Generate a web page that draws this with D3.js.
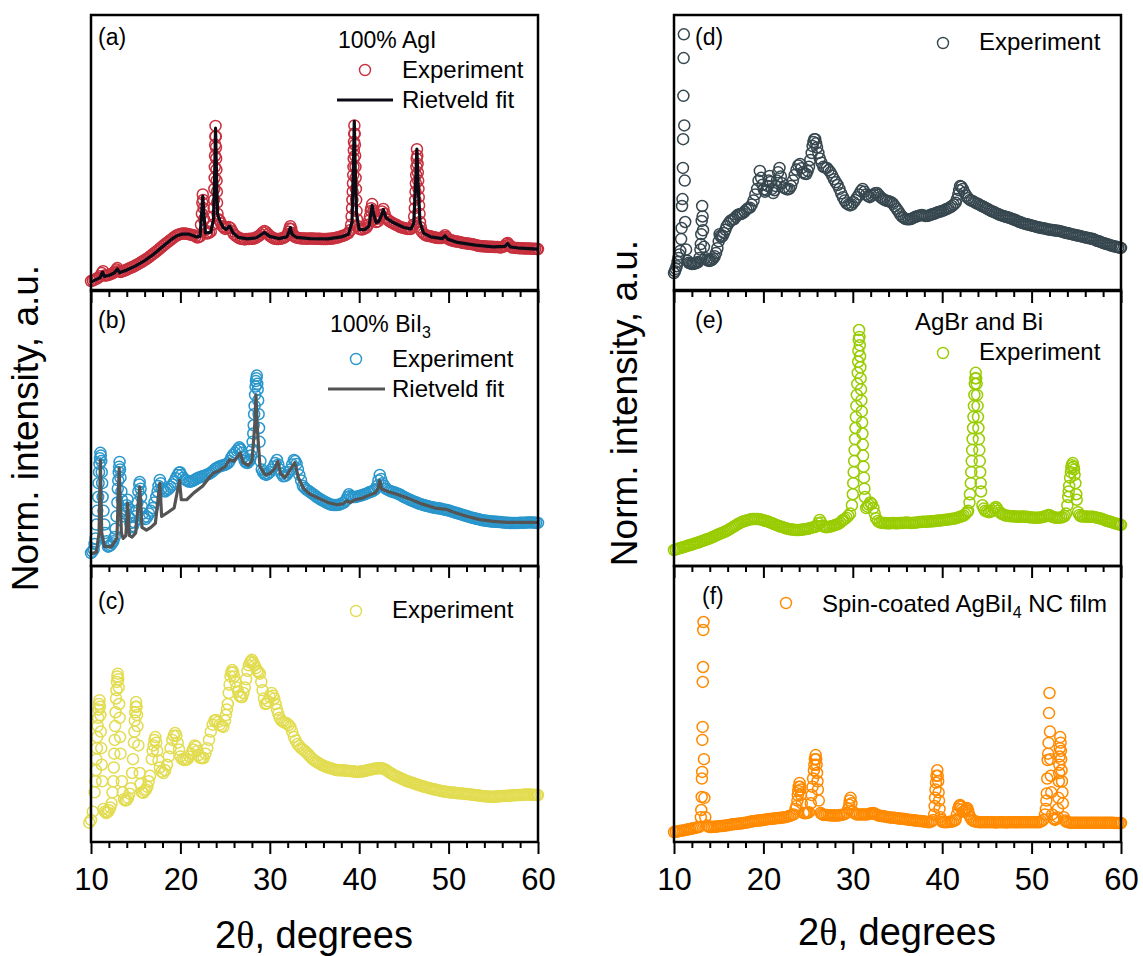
<!DOCTYPE html>
<html>
<head>
<meta charset="utf-8">
<script src="https://d3js.org/d3.v7.min.js"></script>
<style>
  body { margin: 0; background: #fff; }
  text { font-family: "Liberation Sans", Arial, sans-serif; fill: #000; }
</style>
</head>
<body>
<script>
// 2theta ticks
var majorTicks = [10, 20, 30, 40, 50, 60];
var minorTicks = [12, 14, 16, 18, 22, 24, 26, 28, 32, 34, 36, 38, 42, 44, 46, 48, 52, 54, 56, 58];

// (a) 100% AgI  [2theta, norm. intensity]
var expA = [[10.0,3.6],[10.2,3.8],[10.4,4.1],[10.6,4.4],[10.8,4.8],[11.0,5.3],[11.2,6.5],[11.35,7.2],[11.5,5.6],[11.7,5.6],[11.9,5.8],[12.1,6.0],[12.3,6.2],[12.5,6.6],[12.7,7.1],[12.85,7.8],[12.95,8.3],[13.1,7.2],[13.3,6.9],[13.5,7.1],[13.7,7.3],[13.9,7.6],[14.1,7.9],[14.3,8.2],[14.5,8.5],[14.7,8.8],[14.9,9.1],[15.1,9.5],[15.3,9.8],[15.5,10.2],[15.7,10.6],[15.9,11.0],[16.1,11.4],[16.3,11.8],[16.5,12.3],[16.7,12.8],[16.9,13.3],[17.1,13.8],[17.3,14.3],[17.5,14.8],[17.7,15.4],[17.9,15.9],[18.1,16.5],[18.3,17.0],[18.5,17.5],[18.7,18.0],[18.9,18.5],[19.1,19.0],[19.3,19.5],[19.5,20.0],[19.7,20.3],[19.9,20.6],[20.1,20.7],[20.3,20.8],[20.5,20.8],[20.7,20.7],[20.9,20.6],[21.1,20.5],[21.3,20.3],[21.5,20.2],[21.7,19.8],[21.9,19.4],[22.1,19.6],[22.2,19.8],[22.3,24],[22.4,28],[22.45,32],[22.5,35],[22.55,33],[22.6,30],[22.65,26],[22.75,22],[22.9,21],[23.0,20.8],[23.2,21.1],[23.4,21.5],[23.6,24],[23.68,27],[23.72,30],[23.76,33],[23.8,37],[23.83,41],[23.85,45],[23.87,49],[23.89,53],[23.91,56],[23.93,59.8],[23.96,56],[23.98,52],[24.0,48],[24.03,44],[24.05,40],[24.08,36],[24.1,32],[24.15,28],[24.25,26],[24.4,25.5],[24.55,24.5],[24.7,23.5],[24.85,23],[25.0,22.5],[25.2,22.8],[25.4,23.2],[25.6,22.8],[25.8,21.6],[26.0,20.5],[26.2,20.0],[26.4,19.5],[26.6,19.1],[26.8,18.9],[27.0,18.8],[27.2,18.7],[27.4,18.8],[27.6,18.8],[27.8,18.9],[28.0,18.9],[28.2,19.0],[28.4,19.2],[28.6,19.6],[28.8,20.0],[29.0,20.5],[29.2,21.2],[29.4,21.7],[29.6,21.3],[29.8,20.6],[30.0,20.0],[30.2,19.5],[30.4,19.1],[30.6,18.9],[30.8,18.8],[31.0,18.8],[31.2,18.9],[31.4,19.1],[31.6,19.4],[31.8,19.8],[32.0,20.6],[32.1,21.5],[32.2,22.6],[32.3,23.5],[32.4,22.5],[32.5,21.0],[32.65,20.2],[32.8,19.6],[33.0,19.4],[33.2,19.2],[33.4,19.1],[33.6,19.0],[33.8,19.0],[34.0,19.0],[34.2,18.9],[34.4,19.0],[34.6,19.0],[34.8,19.0],[35.0,18.9],[35.2,18.9],[35.4,18.9],[35.6,18.9],[35.8,18.8],[36.0,18.8],[36.2,18.8],[36.4,18.8],[36.6,18.9],[36.8,18.9],[37.0,19.0],[37.2,19.1],[37.4,19.3],[37.6,19.4],[37.8,19.6],[38.0,19.8],[38.2,20.0],[38.4,20.3],[38.6,20.6],[38.8,21.0],[39.0,22],[39.1,24],[39.15,27],[39.2,30],[39.24,33],[39.27,36],[39.3,39],[39.33,42],[39.36,45],[39.38,48],[39.4,51],[39.42,54],[39.44,57],[39.46,60],[39.5,57],[39.52,53],[39.55,49],[39.58,45],[39.6,41],[39.63,37],[39.66,33],[39.7,29],[39.75,26],[39.85,23.5],[40.0,22.5],[40.2,22.3],[40.4,22.3],[40.6,22.6],[40.8,23.0],[41.0,24.0],[41.1,25.5],[41.2,27],[41.3,29],[41.35,30],[41.45,31.5],[41.6,29],[41.7,27],[41.8,26],[41.9,25],[42.1,25.2],[42.25,26.3],[42.4,27.5],[42.55,28.8],[42.7,29.7],[42.85,28],[43.0,26.5],[43.2,25.8],[43.4,25.2],[43.6,24.9],[43.8,24.5],[44.0,24.2],[44.2,23.9],[44.4,23.5],[44.6,23.2],[44.8,23.0],[45.0,22.8],[45.2,22.6],[45.4,22.5],[45.6,22.5],[45.8,22.5],[46.0,23.2],[46.05,24],[46.15,27],[46.22,30],[46.27,33],[46.3,36],[46.34,39],[46.37,42],[46.4,45],[46.43,48],[46.46,51.4],[46.5,49],[46.53,46],[46.56,43],[46.6,40],[46.63,37],[46.66,34],[46.7,31],[46.75,28],[46.8,25],[46.9,23],[47.0,21.5],[47.2,20.8],[47.4,20.3],[47.6,20.0],[47.8,19.9],[48.0,19.8],[48.2,19.6],[48.4,19.5],[48.6,19.3],[48.8,19.2],[49.0,19.2],[49.2,19.2],[49.4,19.5],[49.6,20.2],[49.75,19.6],[49.9,19.0],[50.1,18.6],[50.3,18.4],[50.5,18.2],[50.7,18.0],[50.9,17.9],[51.1,17.8],[51.3,17.7],[51.5,17.5],[51.7,17.4],[51.9,17.3],[52.1,17.2],[52.3,17.1],[52.5,17.0],[52.7,16.9],[52.9,16.8],[53.1,16.6],[53.3,16.4],[53.5,16.3],[53.7,16.2],[53.9,16.2],[54.1,16.1],[54.3,16.1],[54.5,16.0],[54.7,16.0],[54.9,16.0],[55.1,15.9],[55.3,15.9],[55.5,15.9],[55.7,15.8],[55.9,15.8],[56.1,16.0],[56.3,16.4],[56.45,17.0],[56.6,17.4],[56.75,16.8],[56.9,16.2],[57.1,15.8],[57.3,15.7],[57.5,15.6],[57.7,15.6],[57.9,15.5],[58.1,15.5],[58.3,15.5],[58.5,15.4],[58.7,15.4],[58.9,15.4],[59.1,15.4],[59.3,15.3],[59.5,15.3],[59.7,15.3],[59.9,15.2],[60.0,15.2]];
var fitA = [[10.0,3.2],[10.6,4.2],[11.0,4.8],[11.3,6.8],[11.5,5.3],[12.0,5.6],[12.6,6.5],[12.95,8.0],[13.2,6.6],[14.0,7.6],[15.0,9.1],[16.0,11.0],[17.0,13.3],[18.0,16.0],[19.0,18.7],[19.6,20.0],[20.2,20.6],[21.0,20.6],[21.8,19.6],[22.2,19.8],[22.35,27],[22.5,34.4],[22.65,27],[22.8,21],[23.4,21.3],[23.7,26],[23.85,45],[23.93,59],[24.02,45],[24.15,28],[24.4,25.5],[24.8,23],[25.1,22.3],[25.5,23.5],[25.9,21],[26.5,19.4],[27.5,18.9],[28.5,19.3],[29.4,21.2],[30.0,19.8],[31.0,19.0],[31.9,19.6],[32.1,21],[32.3,23],[32.5,20.5],[33.0,19.4],[34.5,19.0],[36.5,18.9],[38.0,19.6],[38.8,20.6],[39.2,25],[39.35,45],[39.45,61.5],[39.55,45],[39.7,28],[40.0,22.3],[40.6,22.2],[41.1,23.5],[41.3,28],[41.45,31],[41.6,28],[41.9,24.8],[42.2,25.2],[42.5,27.5],[42.7,29.5],[43.0,26.5],[43.8,24.8],[45.0,23],[45.8,22.5],[46.1,24.5],[46.3,38],[46.45,51.4],[46.6,38],[46.8,25],[47.2,21],[48.0,19.6],[49.3,19.0],[49.6,20.0],[49.9,18.8],[51.0,17.6],[53.0,16.6],[55.0,16.0],[56.3,16.2],[56.6,17.2],[56.9,16.0],[58.0,15.5],[60.0,15.2]];

// (b) 100% BiI3
var expB = [[10.0,4.7],[10.15,5.2],[10.3,6],[10.4,8],[10.5,10],[10.6,15],[10.7,20],[10.8,25],[10.85,30],[10.9,34],[10.95,37],[11.0,39],[11.05,41],[11.1,40],[11.15,38],[11.2,34],[11.25,30],[11.3,25],[11.4,20],[11.5,15],[11.6,12],[11.75,9],[11.9,7],[12.05,7.2],[12.2,7.6],[12.35,8.2],[12.5,9],[12.65,10.5],[12.75,13.5],[12.85,18],[12.95,23],[13.0,28],[13.05,31],[13.1,34],[13.15,36],[13.2,37.7],[13.25,35],[13.3,32],[13.4,27],[13.45,24],[13.55,20],[13.65,18],[13.8,19],[13.9,20.5],[14.0,22],[14.1,24],[14.2,21],[14.3,17.5],[14.4,15.5],[14.55,14],[14.7,14.5],[14.85,15.8],[15.0,18],[15.1,20],[15.2,23],[15.3,27],[15.4,29.5],[15.45,30.4],[15.55,28],[15.6,25],[15.7,21.5],[15.8,19],[15.95,17.5],[16.1,17],[16.3,17.8],[16.5,19],[16.7,20],[16.9,21],[17.1,23],[17.3,25],[17.45,27],[17.55,29],[17.7,31.2],[17.8,30],[17.9,28],[18.1,27.3],[18.3,27],[18.5,27.5],[18.7,28],[18.9,28.7],[19.1,29.5],[19.3,30.5],[19.5,31.8],[19.7,33],[19.85,33.8],[19.95,34],[20.1,33],[20.3,32],[20.5,31.3],[20.7,31],[20.9,30.6],[21.1,30.5],[21.3,30.8],[21.5,31],[21.7,31.4],[21.9,31.8],[22.1,32.1],[22.3,32.3],[22.5,32.5],[22.7,32.7],[22.9,33],[23.1,33.2],[23.3,33.6],[23.5,34],[23.7,34.6],[23.9,35.2],[24.1,35.6],[24.3,36],[24.5,36.2],[24.7,36.4],[24.9,36.6],[25.1,36.8],[25.3,37.2],[25.5,38],[25.7,39.3],[25.9,40.3],[26.1,41],[26.3,41.8],[26.5,42.6],[26.6,43],[26.75,42.2],[26.9,41],[27.05,39.5],[27.2,38],[27.35,37.5],[27.5,37.3],[27.65,37.8],[27.8,38.5],[27.9,40],[28.0,42],[28.08,45],[28.15,48],[28.2,51],[28.25,55],[28.3,58],[28.35,62],[28.4,65],[28.45,67],[28.5,68],[28.55,69],[28.6,66],[28.65,64],[28.7,60],[28.75,55],[28.8,50],[28.85,45],[28.95,38],[29.1,35],[29.25,34],[29.4,33.3],[29.6,33],[29.8,33.4],[30.0,34],[30.2,35],[30.4,36],[30.6,37.3],[30.8,38.4],[30.95,36.8],[31.1,35],[31.3,33.5],[31.5,32.5],[31.7,32.6],[31.9,33],[32.1,34],[32.3,35],[32.5,36.8],[32.7,38.4],[32.85,38],[33.0,37],[33.15,35],[33.3,33],[33.5,31],[33.7,29],[33.9,28.3],[34.1,27.7],[34.3,27.3],[34.5,26.8],[34.7,26.3],[34.9,25.9],[35.1,25.4],[35.3,24.9],[35.5,24.5],[35.7,24.1],[35.9,23.7],[36.1,23.4],[36.3,23],[36.5,22.7],[36.7,22.4],[36.9,22.2],[37.1,22.1],[37.3,22.1],[37.5,22.1],[37.7,22.2],[37.9,22.4],[38.1,22.7],[38.3,23],[38.5,23.8],[38.7,25],[38.85,26],[39.0,25.4],[39.2,25],[39.4,25],[39.6,25],[39.8,25.2],[40.0,25.4],[40.2,25.5],[40.4,25.7],[40.6,26],[40.8,26.2],[41.0,26.5],[41.2,26.8],[41.4,27],[41.6,27.3],[41.8,27.8],[42.0,29],[42.15,31],[42.3,33],[42.45,31.5],[42.6,30],[42.8,29],[43.0,28],[43.2,27.6],[43.4,27.3],[43.6,27],[43.8,26.8],[44.0,26.6],[44.2,26.4],[44.4,26.1],[44.6,25.8],[44.8,25.4],[45.0,25],[45.2,24.7],[45.4,24.4],[45.6,24.1],[45.8,23.8],[46.0,23.5],[46.2,23.3],[46.4,23],[46.6,22.7],[46.8,22.5],[47.0,22.3],[47.2,22.1],[47.4,21.9],[47.6,21.7],[47.8,21.6],[48.0,21.4],[48.2,21.3],[48.4,21.1],[48.6,21],[48.8,20.9],[49.0,20.8],[49.2,20.7],[49.4,20.5],[49.6,20.4],[49.8,20.3],[50.0,20.1],[50.2,19.9],[50.4,19.7],[50.6,19.5],[50.8,19.3],[51.0,19.1],[51.2,18.9],[51.4,18.7],[51.6,18.5],[51.8,18.3],[52.0,18.1],[52.2,17.9],[52.4,17.7],[52.6,17.5],[52.8,17.4],[53.0,17.2],[53.2,17.0],[53.4,16.9],[53.6,16.7],[53.8,16.6],[54.0,16.5],[54.2,16.4],[54.4,16.3],[54.6,16.2],[54.8,16.1],[55.0,16.1],[55.2,16.0],[55.4,16.0],[55.6,15.9],[55.8,15.9],[56.0,15.8],[56.2,15.8],[56.4,15.7],[56.6,15.7],[56.8,15.6],[57.0,15.6],[57.2,15.6],[57.4,15.6],[57.6,15.6],[57.8,15.6],[58.0,15.7],[58.2,15.7],[58.4,15.7],[58.6,15.7],[58.8,15.8],[59.0,15.8],[59.2,15.8],[59.4,15.8],[59.6,15.7],[59.8,15.7],[60.0,15.6]];
var fitB = [[10.0,4.5],[10.6,5],[10.9,12],[11.05,38.4],[11.2,12],[11.5,7],[12.3,7],[12.9,10],[13.15,35.5],[13.4,12],[13.6,10],[13.9,11],[14.1,22.8],[14.3,11],[14.6,10.5],[15.0,12],[15.45,28.7],[15.7,14],[16.2,13],[16.7,14],[17.2,15.5],[17.7,30],[17.9,18],[18.5,19.2],[19.3,21],[19.9,31],[20.1,24],[20.7,24],[21.5,26.5],[22.5,29],[23.2,32],[23.7,33.7],[24.3,34.5],[25.0,36],[25.5,38.5],[26.0,38],[26.5,40],[26.7,41],[27.0,37.5],[27.6,36.5],[28.0,38],[28.3,50],[28.45,62],[28.6,50],[28.9,36],[29.5,33],[30.0,33.5],[30.5,35],[30.9,38],[31.2,33.5],[31.7,32],[32.2,34.5],[32.8,37.5],[33.2,32],[33.8,28],[34.5,26],[35.5,24.5],[36.5,23],[37.5,22.2],[38.2,22.5],[38.6,23.6],[39.0,23],[39.5,24],[40.3,24.5],[41.0,25.5],[41.8,26.5],[42.1,28],[42.3,31],[42.5,28],[43.2,27],[44.2,26],[45.5,24.5],[47.0,22.5],[48.5,21],[49.8,20.5],[50.5,19.6],[52.0,18],[53.5,16.8],[55.0,16.2],[56.5,15.8],[58.0,15.8],[60.0,15.8]];

// (c)
var expC = [[9.8,7],[10.0,8],[10.2,11],[10.4,18],[10.5,22],[10.55,26],[10.6,30],[10.65,34],[10.7,38],[10.75,42],[10.8,45],[10.85,48],[10.9,50],[10.95,51.4],[11.0,49],[11.05,46],[11.1,40],[11.15,34],[11.2,28],[11.25,22],[11.4,12],[11.55,11],[11.7,10.5],[11.85,10.8],[12.0,11.5],[12.15,12.5],[12.3,14],[12.4,18],[12.5,22],[12.55,27],[12.6,32],[12.65,37],[12.7,42],[12.75,47],[12.8,52],[12.85,55],[12.9,58],[12.95,60],[13.0,61],[13.05,59],[13.1,56],[13.15,50],[13.2,45],[13.25,38],[13.3,32],[13.45,22],[13.55,18],[13.7,15.5],[13.85,15],[14.0,15.2],[14.15,16],[14.3,17.5],[14.45,19.5],[14.6,25],[14.7,30],[14.8,36],[14.85,40],[14.9,44],[14.95,47],[15.0,49],[15.05,50.7],[15.1,49],[15.15,46],[15.2,42],[15.3,35],[15.45,25],[15.55,21],[15.7,18],[15.85,17.8],[16.0,18.5],[16.15,19],[16.3,20],[16.45,22],[16.6,24],[16.8,30],[16.9,33],[17.0,35],[17.1,37],[17.2,38],[17.3,36],[17.4,33],[17.55,29.5],[17.7,27],[17.9,25.5],[18.1,25],[18.3,26],[18.5,28],[18.7,31],[18.9,34],[19.1,37],[19.25,38.5],[19.4,39.5],[19.55,38.5],[19.7,36],[19.85,33.5],[20.0,31],[20.2,30],[20.4,29.7],[20.6,29.8],[20.8,30],[21.0,31],[21.2,32],[21.4,33.5],[21.6,35],[21.75,34.5],[21.9,33],[22.05,31.5],[22.2,30.5],[22.4,30.3],[22.6,30.4],[22.8,32],[23.0,34],[23.2,37],[23.4,40],[23.6,42.5],[23.8,44],[24.0,44.2],[24.2,43.5],[24.4,42.5],[24.6,42],[24.8,41.7],[25.0,44],[25.1,46],[25.2,48],[25.3,50],[25.4,54],[25.5,57],[25.6,60],[25.7,61.5],[25.8,62.3],[25.9,61.5],[26.0,60],[26.15,58],[26.3,56],[26.45,54.5],[26.6,53],[26.75,52.5],[26.9,52.5],[27.05,54],[27.2,56],[27.35,59],[27.5,62],[27.65,64],[27.8,65],[27.9,65.5],[28.0,66],[28.15,65],[28.3,64],[28.45,63],[28.6,62],[28.75,61.5],[28.9,61],[29.05,58],[29.2,55],[29.35,52],[29.5,50],[29.65,50.2],[29.8,51],[30.0,52.5],[30.2,54],[30.35,53],[30.5,52],[30.65,50],[30.8,48],[30.95,46.5],[31.1,45],[31.3,44],[31.5,43.5],[31.7,43.2],[31.9,43],[32.1,42.4],[32.3,41.7],[32.5,40],[32.7,38],[32.9,36.8],[33.1,35.5],[33.3,34.8],[33.5,34],[33.7,33.5],[33.9,33],[34.1,32.4],[34.3,31.8],[34.5,31],[34.7,30.3],[34.9,29.8],[35.1,29.3],[35.3,28.9],[35.5,28.5],[35.7,28.1],[35.9,27.8],[36.1,27.5],[36.3,27.2],[36.5,27],[36.7,26.8],[36.9,26.6],[37.1,26.4],[37.3,26.2],[37.5,26.1],[37.7,26],[37.9,26],[38.1,26],[38.3,25.9],[38.5,25.8],[38.7,25.8],[38.9,25.7],[39.1,25.6],[39.3,25.6],[39.5,25.5],[39.7,25.4],[39.9,25.4],[40.1,25.5],[40.3,25.5],[40.5,25.6],[40.7,25.8],[40.9,26],[41.1,26.1],[41.3,26.3],[41.5,26.4],[41.7,26.5],[41.9,26.6],[42.1,26.7],[42.3,26.8],[42.5,26.7],[42.7,26.5],[42.9,26.3],[43.1,25.9],[43.3,25.4],[43.5,25],[43.7,24.6],[43.9,24.2],[44.1,23.9],[44.3,23.6],[44.5,23.3],[44.7,23],[44.9,22.7],[45.1,22.4],[45.3,22.1],[45.5,21.9],[45.7,21.7],[45.9,21.5],[46.1,21.3],[46.3,21],[46.5,20.8],[46.7,20.6],[46.9,20.4],[47.1,20.2],[47.3,20],[47.5,19.8],[47.7,19.6],[47.9,19.5],[48.1,19.3],[48.3,19.1],[48.5,19],[48.7,18.8],[48.9,18.7],[49.1,18.6],[49.3,18.4],[49.5,18.3],[49.7,18.2],[49.9,18.1],[50.1,18],[50.3,17.9],[50.5,17.9],[50.7,17.8],[50.9,17.7],[51.1,17.7],[51.3,17.6],[51.5,17.6],[51.7,17.5],[51.9,17.4],[52.1,17.4],[52.3,17.3],[52.5,17.2],[52.7,17.1],[52.9,17],[53.1,16.9],[53.3,16.9],[53.5,16.8],[53.7,16.7],[53.9,16.6],[54.1,16.6],[54.3,16.5],[54.5,16.5],[54.7,16.4],[54.9,16.4],[55.1,16.4],[55.3,16.5],[55.5,16.5],[55.7,16.6],[55.9,16.6],[56.1,16.7],[56.3,16.7],[56.5,16.8],[56.7,16.8],[56.9,16.8],[57.1,16.9],[57.3,16.9],[57.5,16.9],[57.7,17],[57.9,17],[58.1,17],[58.3,17.1],[58.5,17.1],[58.7,17.2],[58.9,17.2],[59.1,17.2],[59.3,17.1],[59.5,17.1],[59.7,17],[59.9,17],[60.0,17]];

// (d)
var expD = [[10.0,6.5],[10.1,7.2],[10.2,8],[10.3,9],[10.4,10.5],[10.5,12],[10.6,13.2],[10.7,14.5],[10.8,18.8],[10.85,22.8],[10.9,30.8],[10.95,33.3],[11.0,44.6],[11.02,55],[11.05,70.7],[11.08,84.4],[11.1,93],[11.15,60],[11.2,40],[11.25,25],[11.35,15],[11.5,11],[11.65,10.2],[11.8,10],[11.95,9.8],[12.1,9.8],[12.25,9.9],[12.4,10],[12.55,10.2],[12.7,10.5],[12.85,12],[12.95,15],[13.0,17],[13.05,20.6],[13.1,25.4],[13.15,30.8],[13.2,27],[13.25,22],[13.35,16],[13.5,12],[13.65,11.3],[13.8,11],[13.95,10.9],[14.1,11],[14.25,11.3],[14.4,11.8],[14.55,12.6],[14.7,13.8],[14.85,15.5],[15.0,18],[15.1,20.6],[15.2,20],[15.3,19.5],[15.45,20],[15.6,21],[15.75,22.2],[15.9,23.5],[16.1,24.5],[16.3,25.4],[16.5,25.8],[16.7,26],[16.9,26.8],[17.1,27.5],[17.3,27.8],[17.5,27.9],[17.7,28.2],[17.9,28.8],[18.1,29.5],[18.3,30],[18.5,30.2],[18.7,31.3],[18.9,32.8],[19.1,35],[19.3,37],[19.45,40],[19.6,43.5],[19.75,41],[19.9,38.5],[20.05,36.8],[20.2,36],[20.35,36.5],[20.5,38],[20.6,40],[20.7,41.7],[20.8,39.5],[20.95,37],[21.1,35.5],[21.25,36.5],[21.4,38],[21.5,40],[21.65,43],[21.8,44.6],[21.95,41.5],[22.1,39],[22.3,37.5],[22.5,37],[22.7,36.8],[22.9,37],[23.1,38],[23.3,40],[23.5,42],[23.7,44],[23.9,45.5],[24.1,46],[24.25,44.5],[24.4,43],[24.6,42.5],[24.8,42.4],[24.95,43.5],[25.1,45],[25.25,47.5],[25.4,50],[25.5,52.5],[25.6,54],[25.7,55],[25.8,55],[25.9,53.5],[26.0,52],[26.15,50],[26.3,48],[26.5,46.5],[26.7,45],[26.9,44.7],[27.1,44.6],[27.3,43.8],[27.5,43],[27.7,41.8],[27.9,40.5],[28.1,39.4],[28.3,38.4],[28.5,37],[28.7,35.4],[28.9,34],[29.1,32.8],[29.3,31.8],[29.5,31.3],[29.7,31],[29.9,31.3],[30.1,32.2],[30.3,33],[30.5,34],[30.7,35],[30.9,36.2],[31.1,37],[31.3,36],[31.5,35],[31.7,34.4],[31.9,34],[32.1,34.5],[32.3,35],[32.5,35.4],[32.7,35.5],[32.9,34.8],[33.1,34],[33.3,33.5],[33.5,33.1],[33.7,32.8],[33.9,32.6],[34.1,32.4],[34.3,32.2],[34.5,31.6],[34.7,30.7],[34.9,29.8],[35.1,28.9],[35.3,27.8],[35.5,27],[35.7,26.5],[35.9,26.1],[36.1,26],[36.3,26],[36.5,26.1],[36.7,26.4],[36.9,26.7],[37.1,27],[37.3,27.2],[37.5,27.4],[37.7,27.5],[37.9,27.4],[38.1,27.2],[38.3,27.2],[38.5,27.3],[38.7,27.6],[38.9,27.8],[39.1,28],[39.3,28.3],[39.5,28.5],[39.7,28.7],[39.9,28.9],[40.1,29.1],[40.3,29.4],[40.5,29.7],[40.7,30],[40.9,30.3],[41.1,30.8],[41.3,31.3],[41.5,32],[41.65,33.3],[41.8,35],[41.9,36.5],[42.0,38],[42.15,37.8],[42.3,37],[42.5,35.6],[42.7,34.5],[42.9,33.6],[43.1,33],[43.3,32.7],[43.5,32.4],[43.7,32],[43.9,31.7],[44.1,31.4],[44.3,31],[44.5,30.7],[44.7,30.4],[44.9,30],[45.1,29.7],[45.3,29.3],[45.5,29],[45.7,28.7],[45.9,28.4],[46.1,28.1],[46.3,27.8],[46.5,27.5],[46.7,27.3],[46.9,27.1],[47.1,26.9],[47.3,26.7],[47.5,26.5],[47.7,26.3],[47.9,26],[48.1,25.8],[48.3,25.5],[48.5,25.2],[48.7,25],[48.9,24.7],[49.1,24.5],[49.3,24.3],[49.5,24.2],[49.7,24],[49.9,23.8],[50.1,23.6],[50.3,23.5],[50.5,23.3],[50.7,23.1],[50.9,23],[51.1,22.8],[51.3,22.7],[51.5,22.6],[51.7,22.4],[51.9,22.3],[52.1,22.2],[52.3,22.1],[52.5,22],[52.7,21.9],[52.9,21.8],[53.1,21.7],[53.3,21.6],[53.5,21.4],[53.7,21.2],[53.9,21],[54.1,20.9],[54.3,20.7],[54.5,20.6],[54.7,20.4],[54.9,20.3],[55.1,20.1],[55.3,20],[55.5,19.8],[55.7,19.7],[55.9,19.5],[56.1,19.4],[56.3,19.2],[56.5,19.1],[56.7,18.9],[56.9,18.8],[57.1,18.5],[57.3,18.2],[57.5,18],[57.7,17.8],[57.9,17.5],[58.1,17.3],[58.3,17.1],[58.5,16.9],[58.7,16.7],[58.9,16.5],[59.1,16.3],[59.3,16.1],[59.5,16],[59.7,15.8],[59.9,15.7],[60.0,15.6]];

// (e) AgBr and Bi
var expE = [[10.0,5.8],[10.2,6.0],[10.4,6.2],[10.6,6.4],[10.8,6.6],[11.0,6.8],[11.2,7.0],[11.4,7.2],[11.6,7.4],[11.8,7.6],[12.0,7.8],[12.2,8.0],[12.4,8.2],[12.6,8.4],[12.8,8.6],[13.0,8.9],[13.2,9.1],[13.4,9.3],[13.6,9.6],[13.8,9.8],[14.0,10.0],[14.2,10.3],[14.4,10.6],[14.6,10.9],[14.8,11.2],[15.0,11.5],[15.2,11.8],[15.4,12.0],[15.6,12.3],[15.8,12.6],[16.0,12.9],[16.2,13.3],[16.4,13.7],[16.6,14.1],[16.8,14.5],[17.0,14.9],[17.2,15.3],[17.4,15.6],[17.6,15.9],[17.8,16.2],[18.0,16.4],[18.2,16.6],[18.4,16.8],[18.6,16.9],[18.8,17.0],[19.0,17.0],[19.2,17.0],[19.4,17.0],[19.6,16.9],[19.8,16.8],[20.0,16.6],[20.2,16.4],[20.4,16.2],[20.6,16.0],[20.8,15.7],[21.0,15.5],[21.2,15.2],[21.4,14.9],[21.6,14.7],[21.8,14.4],[22.0,14.2],[22.2,14.0],[22.4,13.8],[22.6,13.6],[22.8,13.4],[23.0,13.3],[23.2,13.2],[23.4,13.1],[23.6,13.0],[23.8,13.0],[24.0,13.0],[24.2,13.1],[24.4,13.2],[24.6,13.3],[24.8,13.4],[25.0,13.5],[25.2,13.7],[25.4,13.9],[25.6,14.0],[25.8,14.2],[26.0,14.5],[26.15,15.5],[26.3,16.7],[26.45,15.8],[26.6,14.6],[26.8,14.2],[27.0,14.0],[27.2,14.1],[27.4,14.2],[27.6,14.4],[27.8,14.6],[28.0,14.8],[28.2,15.0],[28.4,15.3],[28.6,15.7],[28.8,16.3],[28.9,16.7],[29.1,17],[29.3,17.5],[29.5,18.2],[29.7,19],[29.9,22],[30.0,26],[30.05,30],[30.1,34],[30.15,38],[30.2,42],[30.25,46],[30.3,50],[30.35,54],[30.4,58],[30.45,62],[30.5,66],[30.55,70],[30.6,74],[30.62,78],[30.66,82],[30.7,85.5],[30.74,83],[30.78,80],[30.82,76],[30.85,72],[30.88,68],[30.92,64],[30.96,60],[31.0,56],[31.04,52],[31.08,48],[31.12,44],[31.15,40],[31.2,36],[31.25,32],[31.3,28],[31.35,25],[31.5,21],[31.65,21.5],[31.8,22.2],[31.95,23],[32.1,22.5],[32.3,21],[32.45,19],[32.6,17.3],[32.8,16.3],[33.0,15.8],[33.2,15.7],[33.4,15.6],[33.6,15.6],[33.8,15.5],[34.0,15.5],[34.2,15.5],[34.4,15.6],[34.6,15.6],[34.8,15.5],[35.0,15.5],[35.2,15.6],[35.4,15.6],[35.6,15.6],[35.8,15.7],[36.0,15.8],[36.2,15.7],[36.4,15.6],[36.6,15.6],[36.8,15.7],[37.0,15.7],[37.2,15.8],[37.4,15.9],[37.6,15.9],[37.8,16.0],[38.0,16.0],[38.2,16.0],[38.4,16.1],[38.6,16.1],[38.8,16.2],[39.0,16.2],[39.2,16.3],[39.4,16.4],[39.6,16.5],[39.8,16.5],[40.0,16.6],[40.2,16.7],[40.4,16.8],[40.6,16.8],[40.8,16.9],[41.0,17.0],[41.2,17.1],[41.4,17.2],[41.6,17.4],[41.8,17.6],[42.0,17.8],[42.2,18.0],[42.4,18.3],[42.6,18.8],[42.8,19.5],[42.9,20],[43.05,23],[43.1,26],[43.2,30],[43.25,34],[43.3,38],[43.35,42],[43.4,46],[43.45,50],[43.5,54],[43.55,58],[43.6,62],[43.65,66],[43.7,68],[43.75,70],[43.8,68],[43.85,66],[43.9,62],[43.95,58],[44.0,54],[44.05,50],[44.1,46],[44.15,42],[44.2,38],[44.25,34],[44.3,30],[44.35,27],[44.5,22],[44.65,20.8],[44.8,20],[45.0,19.7],[45.2,19.5],[45.4,19.6],[45.6,20],[45.8,20.8],[46.0,21.4],[46.15,20.8],[46.3,20],[46.5,19.3],[46.7,18.8],[46.9,18.5],[47.1,18.3],[47.3,18.2],[47.5,18.1],[47.7,18.0],[47.9,18.0],[48.1,17.9],[48.3,17.9],[48.5,17.8],[48.7,17.8],[48.9,17.9],[49.1,17.9],[49.3,17.8],[49.5,17.8],[49.7,17.7],[49.9,17.6],[50.1,17.6],[50.3,17.5],[50.5,17.5],[50.7,17.5],[50.9,17.6],[51.1,17.6],[51.3,17.8],[51.5,17.9],[51.7,18.2],[51.9,18.5],[52.1,18.3],[52.3,17.8],[52.5,17.6],[52.7,17.5],[52.9,17.5],[53.1,17.5],[53.3,17.6],[53.5,17.7],[53.7,18.1],[53.85,19],[54.0,22],[54.1,25],[54.15,27],[54.2,29],[54.3,32],[54.4,34],[54.45,35.5],[54.5,36.5],[54.6,37.3],[54.7,36],[54.75,35],[54.8,33],[54.9,30],[55.0,26],[55.05,24],[55.2,19.5],[55.35,18.5],[55.5,18],[55.7,17.9],[55.9,17.9],[56.1,17.9],[56.3,17.8],[56.5,17.8],[56.7,17.8],[56.9,17.8],[57.1,17.7],[57.3,17.5],[57.5,17.4],[57.7,17.2],[57.9,17.0],[58.1,16.8],[58.3,16.5],[58.5,16.3],[58.7,16.1],[58.9,15.9],[59.1,15.7],[59.3,15.5],[59.5,15.3],[59.7,15.1],[59.9,15.0],[60.0,14.9]];

// (f) Spin-coated AgBiI4 NC film
var expF = [[10.0,3.6],[10.2,3.7],[10.4,3.8],[10.6,4.0],[10.8,4.1],[11.0,4.2],[11.2,4.3],[11.4,4.4],[11.6,4.6],[11.8,4.7],[12.0,4.9],[12.2,5.0],[12.4,5.1],[12.6,5.3],[12.8,5.4],[13.0,9],[13.05,11.6],[13.1,16.3],[13.12,23],[13.15,25.4],[13.17,37],[13.2,41.7],[13.22,58],[13.25,63.4],[13.27,76.8],[13.3,79.7],[13.35,30],[13.4,16],[13.5,9],[13.7,6],[13.85,5.6],[14.0,5.4],[14.2,5.4],[14.4,5.5],[14.6,5.5],[14.8,5.6],[15.0,5.7],[15.2,5.8],[15.4,5.8],[15.6,5.9],[15.8,6.0],[16.0,6.1],[16.2,6.2],[16.4,6.3],[16.6,6.4],[16.8,6.5],[17.0,6.5],[17.2,6.6],[17.4,6.7],[17.6,6.8],[17.8,6.9],[18.0,7.0],[18.2,7.1],[18.4,7.2],[18.6,7.4],[18.8,7.5],[19.0,7.6],[19.2,7.7],[19.4,7.8],[19.6,7.8],[19.8,7.9],[20.0,8.0],[20.2,8.1],[20.4,8.2],[20.6,8.3],[20.8,8.3],[21.0,8.4],[21.2,8.5],[21.4,8.6],[21.6,8.7],[21.8,8.7],[22.0,8.8],[22.2,8.9],[22.4,9.0],[22.6,9.1],[22.8,9.3],[23.0,9.5],[23.2,9.8],[23.4,10],[23.6,12],[23.7,13],[23.8,15],[23.85,17],[23.9,18.5],[23.95,20],[24.05,21.4],[24.1,20],[24.15,19],[24.2,17],[24.3,14],[24.5,10.5],[24.65,10.4],[24.8,10.5],[24.95,10.6],[25.1,10.8],[25.3,14],[25.4,17],[25.5,20],[25.55,23],[25.65,26],[25.7,28],[25.75,30],[25.85,31.5],[25.9,30],[25.95,28],[26.0,25],[26.05,22],[26.1,19],[26.2,15],[26.4,10.5],[26.55,10.1],[26.7,9.8],[26.9,9.8],[27.1,9.8],[27.3,9.7],[27.5,9.7],[27.7,9.6],[27.9,9.6],[28.1,9.6],[28.3,9.6],[28.5,9.7],[28.7,9.8],[28.9,9.9],[29.1,10.1],[29.3,10.6],[29.5,12],[29.6,13.5],[29.65,15],[29.75,16],[29.85,14],[30.0,11],[30.2,10.4],[30.4,10.0],[30.6,10.0],[30.8,10.0],[31.0,10.0],[31.2,10.0],[31.4,10.0],[31.6,10.0],[31.8,10.1],[32.0,10.3],[32.15,10.4],[32.3,10.5],[32.45,10.3],[32.6,10.0],[32.8,9.7],[33.0,9.5],[33.2,9.4],[33.4,9.3],[33.6,9.2],[33.8,9.1],[34.0,9.0],[34.2,8.9],[34.4,8.8],[34.6,8.8],[34.8,8.7],[35.0,8.6],[35.2,8.5],[35.4,8.4],[35.6,8.4],[35.8,8.3],[36.0,8.2],[36.2,8.1],[36.4,8.0],[36.6,8.0],[36.8,7.9],[37.0,7.8],[37.2,7.7],[37.4,7.6],[37.6,7.6],[37.8,7.5],[38.0,7.4],[38.2,7.3],[38.4,7.2],[38.6,7.2],[38.8,7.4],[39.0,8],[39.1,10],[39.15,13],[39.2,16],[39.25,19],[39.3,21.5],[39.35,24],[39.45,26],[39.5,24],[39.55,22],[39.6,18],[39.65,15],[39.7,12],[39.8,9],[39.9,8],[40.0,7.3],[40.2,7.2],[40.4,7.2],[40.6,7.2],[40.8,7.3],[41.0,7.3],[41.2,7.5],[41.4,7.8],[41.5,8],[41.65,10],[41.8,12],[41.9,13],[42.0,13.4],[42.1,12.8],[42.2,11.8],[42.3,11],[42.45,11.2],[42.6,11.5],[42.7,12],[42.8,12.3],[42.9,11.3],[43.0,10],[43.15,9],[43.3,8],[43.5,7.6],[43.7,7.4],[43.9,7.3],[44.1,7.2],[44.3,7.2],[44.5,7.2],[44.7,7.2],[44.9,7.2],[45.1,7.2],[45.3,7.2],[45.5,7.2],[45.7,7.2],[45.9,7.1],[46.1,7.1],[46.3,7.2],[46.5,7.2],[46.7,7.2],[46.9,7.2],[47.1,7.1],[47.3,7.1],[47.5,7.2],[47.7,7.2],[47.9,7.2],[48.1,7.2],[48.3,7.2],[48.5,7.2],[48.7,7.2],[48.9,7.2],[49.1,7.2],[49.3,7.2],[49.5,7.2],[49.7,7.2],[49.9,7.2],[50.1,7.2],[50.3,7.2],[50.5,7.2],[50.7,7.2],[50.9,7.2],[51.1,7.5],[51.3,8],[51.5,10],[51.6,12],[51.65,15],[51.7,17.6],[51.75,23],[51.8,29.7],[51.85,32],[51.9,35.9],[51.95,46.7],[52.0,54],[52.05,40],[52.1,30],[52.15,24],[52.2,18],[52.3,10],[52.45,8.5],[52.6,8],[52.75,8.3],[52.9,9],[52.95,12],[53.0,16],[53.05,22],[53.08,25],[53.1,28],[53.12,31],[53.15,34],[53.2,38],[53.25,36],[53.28,33],[53.3,30],[53.35,26],[53.4,22],[53.45,18],[53.5,14],[53.6,9],[53.75,7.8],[53.9,7.3],[54.1,7.1],[54.3,7.0],[54.5,7.0],[54.7,7.0],[54.9,7.0],[55.1,7.0],[55.3,7.0],[55.5,7.0],[55.7,7.0],[55.9,7.0],[56.1,7.0],[56.3,7.0],[56.5,7.0],[56.7,7.0],[56.9,7.0],[57.1,7.0],[57.3,7.0],[57.5,7.0],[57.7,7.0],[57.9,7.0],[58.1,7.0],[58.3,7.0],[58.5,7.0],[58.7,7.0],[58.9,7.0],[59.1,7.0],[59.3,6.9],[59.5,6.9],[59.7,6.9],[59.9,6.9],[60.0,6.9]];

var W = 1143, H = 956;
var ph = 276;

var svg = d3.select("body").append("svg").attr("width", W).attr("height", H);

var xL = d3.scaleLinear().domain([10, 60]).range([91, 538]);
var xR = d3.scaleLinear().domain([10, 60]).range([674, 1121]);

var panels = [
    {x: xL, top: 15,  exp: expA, fit: fitA, color: "#c8303e", fitColor: "#0b0b16", labels: false},
    {x: xL, top: 290, exp: expB, fit: fitB, color: "#2996cc", fitColor: "#545454", labels: false},
    {x: xL, top: 566, exp: expC, fit: null, color: "#e2dc50", labels: true},
    {x: xR, top: 15,  exp: expD, fit: null, color: "#37474f", labels: false},
    {x: xR, top: 290, exp: expE, fit: null, color: "#99cc00", labels: false},
    {x: xR, top: 566, exp: expF, fit: null, color: "#ff8a00", labels: true}
];

panels.forEach(function(p){
    var y = d3.scaleLinear().domain([0, 100]).range([p.top + ph, p.top]);
    var g = svg.append("g");

    g.selectAll("circle")
        .data(p.exp)
        .join("circle")
        .attr("cx", function(d){ return p.x(d[0]); })
        .attr("cy", function(d){ return y(d[1]); })
        .attr("r", 5.5)
        .attr("fill", "none")
        .attr("stroke", p.color)
        .attr("stroke-width", 1.5);

    if (p.fit) {
        var line = d3.line().x(function(d){ return p.x(d[0]); }).y(function(d){ return y(d[1]); });
        g.append("path")
            .attr("d", line(p.fit))
            .attr("fill", "none")
            .attr("stroke", p.fitColor)
            .attr("stroke-width", 3.2)
            .attr("stroke-linejoin", "round");
    }

    // frame
    svg.append("rect")
        .attr("x", p.x.range()[0]).attr("y", p.top)
        .attr("width", p.x.range()[1] - p.x.range()[0]).attr("height", ph)
        .attr("fill", "none").attr("stroke", "#000").attr("stroke-width", 2.5);

    // ticks below each panel
    var minorAxis = d3.axisBottom(p.x).tickValues(minorTicks).tickSize(6).tickFormat("");
    var majorAxis = d3.axisBottom(p.x).tickValues(majorTicks).tickSize(12).tickPadding(14)
        .tickFormat(p.labels ? d3.format("d") : "");
    [minorAxis, majorAxis].forEach(function(ax){
        var a = svg.append("g").attr("transform", "translate(0," + (p.top + ph) + ")").call(ax);
        a.select(".domain").remove();
        a.selectAll("line").attr("stroke", "#000").attr("stroke-width", 2);
        a.selectAll("text").attr("font-size", 31).attr("font-family", "Liberation Sans, Arial, sans-serif").attr("fill", "#000");
    });
});

// panel labels and legends
function txt(x, y, s, size) {
    return svg.append("text").attr("x", x).attr("y", y).attr("font-size", size).text(s);
}
function mark(x, y, color) {
    svg.append("circle").attr("cx", x).attr("cy", y).attr("r", 5.5)
        .attr("fill", "none").attr("stroke", color).attr("stroke-width", 1.4);
}
function lineKey(x1, x2, y, color) {
    svg.append("line").attr("x1", x1).attr("x2", x2).attr("y1", y).attr("y2", y)
        .attr("stroke", color).attr("stroke-width", 3);
}

txt(98, 45, "(a)", 23);
txt(338, 48, "100% AgI", 23);
mark(365, 70, panels[0].color); txt(402, 78, "Experiment", 24);
lineKey(337, 393, 100, panels[0].fitColor); txt(402, 108, "Rietveld fit", 24);

txt(98, 328, "(b)", 23);
var tb = txt(330, 332, "100% BiI", 23);
tb.append("tspan").attr("font-size", 16).attr("dy", 6).text("3");
mark(356, 359, panels[1].color); txt(392, 367, "Experiment", 24);
lineKey(328, 385, 389, panels[1].fitColor); txt(392, 397, "Rietveld fit", 24);

txt(98, 609, "(c)", 23);
mark(356, 611, panels[2].color); txt(392, 618, "Experiment", 24);

txt(695, 45, "(d)", 23);
mark(943, 43, panels[3].color); txt(979, 50, "Experiment", 24);

txt(695, 328, "(e)", 23);
txt(915, 330, "AgBr and Bi", 24);
mark(943, 353, panels[4].color); txt(979, 360, "Experiment", 24);

txt(702, 604, "(f)", 23);
mark(786, 603, panels[5].color);
var tf = txt(822, 612, "Spin-coated AgBiI", 24);
tf.append("tspan").attr("font-size", 16).attr("dy", 6).text("4");
tf.append("tspan").attr("dy", -6).text(" NC film");

// axis titles
[[314, 948], [897, 945]].forEach(function(c){
    var t = svg.append("text").attr("x", c[0]).attr("y", c[1]).attr("text-anchor", "middle").attr("font-size", 38);
    t.append("tspan").text("2");
    t.append("tspan").attr("font-family", "Liberation Serif, serif").text("θ");
    t.append("tspan").text(", degrees");
});
[[38, 428], [637, 403]].forEach(function(c){
    svg.append("text")
        .attr("transform", "translate(" + c[0] + "," + c[1] + ") rotate(-90)")
        .attr("text-anchor", "middle").attr("font-size", 37)
        .text("Norm. intensity, a.u.");
});
</script>
</body>
</html>
